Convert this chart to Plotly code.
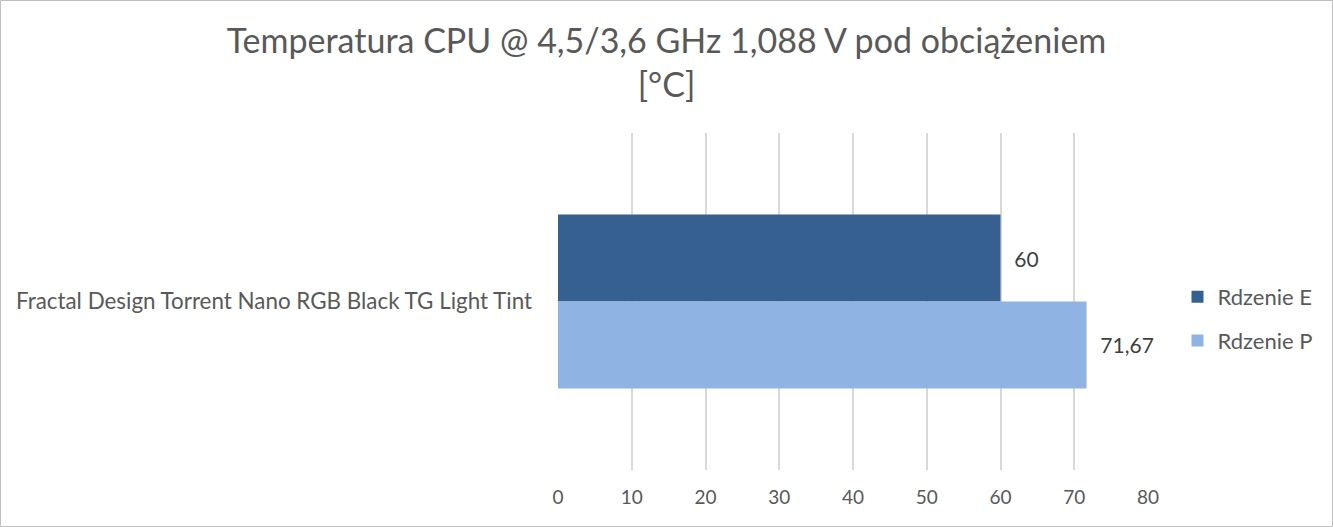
import plotly.graph_objects as go

categories = ["Fractal Design Torrent Nano RGB Black TG Light Tint"]
series_names = ["Rdzenie E", "Rdzenie P"]
values_e = [60]
values_p = [71.67]
x_ticks = [0, 10, 20, 30, 40, 50, 60, 70, 80]
title_text = "Temperatura CPU @ 4,5/3,6 GHz 1,088 V pod obciążeniem<br>[°C]"

FONT = "Lato"
TXT = "#595959"

fig = go.Figure()
fig.add_trace(go.Bar(
    y=categories, x=values_e, name=series_names[0], orientation="h",
    legendgroup="e",
    marker=dict(color="#35608F", line=dict(width=0)),
    texttemplate="\u00a0\u00a0%{x}", textposition="outside",
    textfont=dict(family=FONT, size=21, color="#404040"), cliponaxis=False,
))
fig.add_trace(go.Bar(
    y=categories, x=values_p, name=series_names[1], orientation="h",
    legendgroup="p",
    marker=dict(color="#8FB3E3", line=dict(width=0)),
    texttemplate="\u00a0\u00a0%{x}", textposition="outside",
    textfont=dict(family=FONT, size=21, color="#404040"), cliponaxis=False,
))

fig.update_layout(
    width=1333, height=527,
    separators=", ",
    paper_bgcolor="white", plot_bgcolor="white",
    margin=dict(l=558, r=185, t=133, b=57, autoexpand=False),
    barmode="group", bargap=0.484, bargroupgap=0,
    title=dict(text=title_text, x=0.5, xanchor="center", y=0.90, yanchor="top",
               font=dict(family=FONT, size=34, color=TXT)),
    font=dict(family=FONT, color=TXT),
    showlegend=True,
    legend=dict(x=1.05, xanchor="left", y=0.448, yanchor="middle",
                font=dict(family=FONT, size=22, color=TXT),
                traceorder="grouped", itemwidth=30, tracegroupgap=12,
                bgcolor="rgba(0,0,0,0)"),
    xaxis=dict(range=[0, 80], tickvals=x_ticks, showgrid=True, gridcolor="#D9D9D9",
               gridwidth=1.5, zeroline=False, showline=False, ticks="",
               automargin=False,
               tickfont=dict(family=FONT, size=19, color=TXT), ticklabelstandoff=14),
    yaxis=dict(autorange="reversed", showgrid=False, zeroline=False, showline=False,
               ticks="", automargin=False,
               tickfont=dict(family=FONT, size=22.4, color=TXT),
               ticklabelstandoff=25),
    shapes=[dict(type="rect", xref="paper", yref="paper",
                 x0=(0.5 - 558) / 590, x1=(1332.5 - 558) / 590,
                 y0=-(57 - 0.5) / 337, y1=1 + (133 - 0.5) / 337,
                 line=dict(color="#BFBFBF", width=1), fillcolor="rgba(0,0,0,0)")],
)

fig.write_html("out.html", config={"displayModeBar": False},
               post_script="document.body.style.margin='0';")
